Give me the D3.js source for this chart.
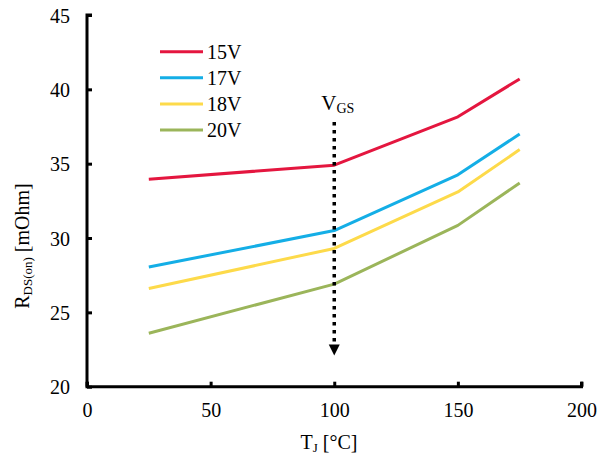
<!DOCTYPE html>
<html><head><meta charset="utf-8">
<script src="https://cdn.jsdelivr.net/npm/d3@7"></script>
<style>body{margin:0;background:#fff}svg{display:block}</style>
</head><body><svg id="c" width="600" height="459"></svg>
<script>
const temps = [25, 100, 150, 175];
const seriesNames = ["15V", "17V", "18V", "20V"];
const v15 = [33.95, 34.9, 38.15, 40.7];
const v17 = [28.05, 30.5, 34.25, 37.0];
const v18 = [26.6, 29.3, 33.1, 35.95];
const v20 = [23.6, 26.9, 30.85, 33.7];
const colors = ["#E4163F", "#14AEE6", "#FDDA4A", "#9BB55A"];
const xTicks = [0, 50, 100, 150, 200];
const yTicks = [20, 25, 30, 35, 40, 45];
const arrowX = 100, arrowFrom = 37.8, arrowTo = 22.1;

const FONT = "Times New Roman, Liberation Serif, Tinos, DejaVu Serif, serif";
const series = [v15, v17, v18, v20];
const svg = d3.select("#c").attr("font-family", FONT);
const x = d3.scaleLinear().domain([0, 200]).range([87, 581.5]);
const y = d3.scaleLinear().domain([20, 45]).range([386.7, 15]);

// axes
const gx = svg.append("g").attr("transform", `translate(0,${y(20)})`)
  .call(d3.axisBottom(x).tickValues(xTicks).tickSize(-5).tickPadding(16));
const gy = svg.append("g").attr("transform", `translate(${x(0)},0)`)
  .call(d3.axisLeft(y).tickValues(yTicks).tickSize(-5).tickPadding(17));
[gx, gy].forEach(g => {
  g.attr("font-family", FONT).attr("font-size", 20);
  g.select(".domain").attr("stroke", "#000").attr("stroke-width", 3);
  g.selectAll(".tick line").attr("stroke", "#000").attr("stroke-width", 3);
  g.selectAll(".tick text").attr("fill", "#000");
});
gx.select(".domain").attr("d", `M${x(0)},-5V0H${x(200)}V-5`);
gy.select(".domain").attr("d", `M5,${y(45)}H0V${y(20)}`);
gy.selectAll(".tick text").attr("dy", "0.36em");

// lines
const line = d3.line().x((d, i) => x(temps[i])).y(d => y(d));
series.forEach((s, k) => {
  svg.append("path").datum(s).attr("d", line).attr("fill", "none")
    .attr("stroke", colors[k]).attr("stroke-width", 3).attr("stroke-linejoin", "round");
});

// arrow
svg.append("line").attr("x1", x(arrowX)).attr("x2", x(arrowX))
  .attr("y1", y(arrowFrom)).attr("y2", y(arrowTo) - 8)
  .attr("stroke", "#000").attr("stroke-width", 3.5).attr("stroke-dasharray", "3.5,4.5");
const ax = x(arrowX), ay = y(arrowTo);
svg.append("path").attr("d", `M${ax - 5.5},${ay - 11}L${ax + 5.5},${ay - 11}L${ax},${ay}Z`).attr("fill", "#000");
const vgs = svg.append("text").attr("x", ax - 13).attr("y", 110).attr("font-size", 21);
vgs.append("tspan").text("V");
vgs.append("tspan").attr("dy", 3).attr("font-size", 14).text("GS");

// legend
seriesNames.forEach((n, k) => {
  const ly = 51.7 + k * 26.1;
  svg.append("line").attr("x1", 160).attr("x2", 203).attr("y1", ly).attr("y2", ly)
    .attr("stroke", colors[k]).attr("stroke-width", 3);
  svg.append("text").attr("x", 207).attr("y", ly + 7).attr("font-size", 20).text(n);
});

// axis titles
const xt = svg.append("text").attr("x", 329).attr("y", 449).attr("text-anchor", "middle").attr("font-size", 20);
xt.append("tspan").text("T");
xt.append("tspan").attr("dy", 3).attr("font-size", 13).text("J");
xt.append("tspan").attr("dy", -3).text(" [°C]");

const yt = svg.append("text").attr("transform", "translate(29,246) rotate(-90)").attr("text-anchor", "middle").attr("font-size", 20);
yt.append("tspan").text("R");
yt.append("tspan").attr("dy", 3).attr("font-size", 13).text("DS(on)");
yt.append("tspan").attr("dy", -3).text(" [mOhm]");
</script></body></html>
